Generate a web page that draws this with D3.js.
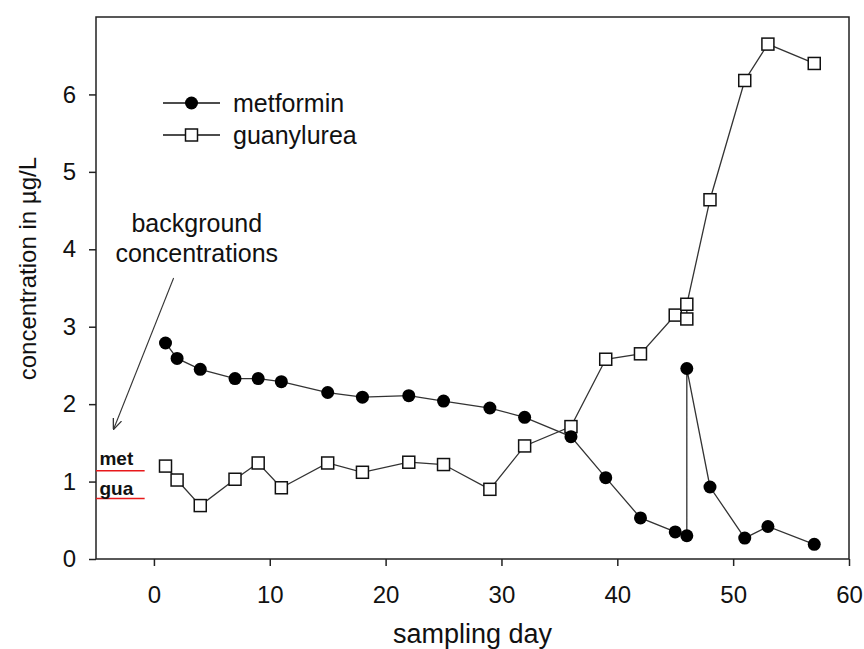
<!DOCTYPE html>
<html>
<head>
<meta charset="utf-8">
<script src="https://cdn.jsdelivr.net/npm/d3@7"></script>
<style>
  body { margin: 0; background: #fff; }
  svg text { font-family: "Liberation Sans", Arial, sans-serif; fill: #111; }
</style>
</head>
<body>
<svg id="chart" width="864" height="649"></svg>
<script>
// data
const metDays = [1, 2, 4, 7, 9, 11, 15, 18, 22, 25, 29, 32, 36, 39, 42, 45, 46, 46, 48, 51, 53, 57];
const metValues = [2.79, 2.59, 2.45, 2.33, 2.33, 2.29, 2.15, 2.09, 2.11, 2.04, 1.95, 1.83, 1.58, 1.05, 0.53, 0.35, 0.30, 2.46, 0.93, 0.27, 0.42, 0.19];

const guaDays = [1, 2, 4, 7, 9, 11, 15, 18, 22, 25, 29, 32, 36, 39, 42, 45, 46, 46, 48, 51, 53, 57];
const guaValues = [1.20, 1.02, 0.69, 1.03, 1.24, 0.92, 1.24, 1.12, 1.25, 1.22, 0.90, 1.46, 1.71, 2.58, 2.65, 3.15, 3.10, 3.29, 4.64, 6.18, 6.65, 6.40];

// background levels shown as red lines at the left edge
const backgroundLabels = ["met", "gua"];
const backgroundValues = [1.14, 0.78];

const xTicks = [0, 10, 20, 30, 40, 50, 60];
const yTicks = [0, 1, 2, 3, 4, 5, 6];

const svg = d3.select("#chart");
const margin = { left: 96, top: 17, right: 15, bottom: 90 };
const width = 864 - margin.left - margin.right;
const height = 649 - margin.top - margin.bottom;

const x = d3.scaleLinear().domain([-5, 60]).range([0, width]);
const y = d3.scaleLinear().domain([0, 7]).range([height, 0]);

const g = svg.append("g").attr("transform", `translate(${margin.left},${margin.top})`);

// frame
g.append("rect")
  .attr("width", width).attr("height", height)
  .attr("fill", "none").attr("stroke", "#222").attr("stroke-width", 1.5);

// axes
const xAxis = g.append("g")
  .attr("transform", `translate(0,${height})`)
  .call(d3.axisBottom(x).tickValues(xTicks).tickFormat(d3.format("d")).tickSize(7).tickPadding(20));
const yAxis = g.append("g")
  .call(d3.axisLeft(y).tickValues(yTicks).tickFormat(d3.format("d")).tickSize(7).tickPadding(13));

[xAxis, yAxis].forEach(a => {
  a.select(".domain").remove();
  a.selectAll(".tick line").attr("stroke", "#222").attr("stroke-width", 1.5);
  a.selectAll(".tick text")
    .attr("font-size", 24)
    .attr("font-family", "Liberation Sans, Arial, sans-serif")
    .attr("fill", "#111");
});

// axis titles
svg.append("text")
  .attr("x", margin.left + x(27.5)).attr("y", 643)
  .attr("text-anchor", "middle").attr("font-size", 27)
  .text("sampling day");

svg.append("text")
  .attr("transform", `translate(36,${margin.top + y(3.75)}) rotate(-90)`)
  .attr("text-anchor", "middle").attr("font-size", 24)
  .text("concentration in µg/L");

// background lines
backgroundValues.forEach((v, i) => {
  g.append("line")
    .attr("x1", x(-5)).attr("x2", x(-0.8))
    .attr("y1", y(v)).attr("y2", y(v))
    .attr("stroke", "#e8191b").attr("stroke-width", 1.5);
  g.append("text")
    .attr("x", x(-4.7)).attr("y", y(v) - (i === 0 ? 6 : 4))
    .attr("font-size", 19).attr("font-weight", "bold")
    .text(backgroundLabels[i]);
});

// annotation arrow
const defs = svg.append("defs");
defs.append("marker")
  .attr("id", "arrow").attr("viewBox", "0 0 10 10")
  .attr("refX", 10).attr("refY", 5)
  .attr("markerWidth", 10).attr("markerHeight", 12)
  .attr("orient", "auto")
  .append("path").attr("d", "M0,1 L10,5 L0,9")
  .attr("fill", "none").attr("stroke", "#333").attr("stroke-width", 1.2);

g.append("line")
  .attr("x1", x(1.7)).attr("y1", y(3.63))
  .attr("x2", x(-3.5)).attr("y2", y(1.67))
  .attr("stroke", "#333").attr("stroke-width", 1.1)
  .attr("marker-end", "url(#arrow)");

const note = g.append("text").attr("text-anchor", "middle").attr("font-size", 25);
note.append("tspan").attr("x", x(3.7)).attr("y", y(4.22)).text("background");
note.append("tspan").attr("x", x(3.7)).attr("y", y(3.83)).text("concentrations");

// series lines
const line = d3.line().x(d => x(d[0])).y(d => y(d[1]));
const metData = metDays.map((d, i) => [d, metValues[i]]);
const guaData = guaDays.map((d, i) => [d, guaValues[i]]);

[metData, guaData].forEach(data => {
  g.append("path").datum(data)
    .attr("d", line).attr("fill", "none")
    .attr("stroke", "#333").attr("stroke-width", 1.3);
});

// markers
const sq = 12;
g.selectAll(".gua").data(guaData).enter().append("rect")
  .attr("x", d => x(d[0]) - sq / 2).attr("y", d => y(d[1]) - sq / 2)
  .attr("width", sq).attr("height", sq)
  .attr("fill", "#fff").attr("stroke", "#111").attr("stroke-width", 1.5);

g.selectAll(".met").data(metData).enter().append("circle")
  .attr("cx", d => x(d[0])).attr("cy", d => y(d[1]))
  .attr("r", 6.5).attr("fill", "#000");

// legend
const legend = svg.append("g").attr("transform", "translate(163,103)");
legend.append("line").attr("x1", 0).attr("x2", 57).attr("y1", 0).attr("y2", 0)
  .attr("stroke", "#111").attr("stroke-width", 1.5);
legend.append("circle").attr("cx", 28.5).attr("cy", 0).attr("r", 6.5).attr("fill", "#000");
legend.append("text").attr("x", 70).attr("y", 9).attr("font-size", 25).text("metformin");

legend.append("line").attr("x1", 0).attr("x2", 57).attr("y1", 32).attr("y2", 32)
  .attr("stroke", "#111").attr("stroke-width", 1.5);
legend.append("rect").attr("x", 28.5 - sq / 2).attr("y", 32 - sq / 2)
  .attr("width", sq).attr("height", sq)
  .attr("fill", "#fff").attr("stroke", "#111").attr("stroke-width", 1.5);
legend.append("text").attr("x", 70).attr("y", 41).attr("font-size", 25).text("guanylurea");
</script>
</body>
</html>
